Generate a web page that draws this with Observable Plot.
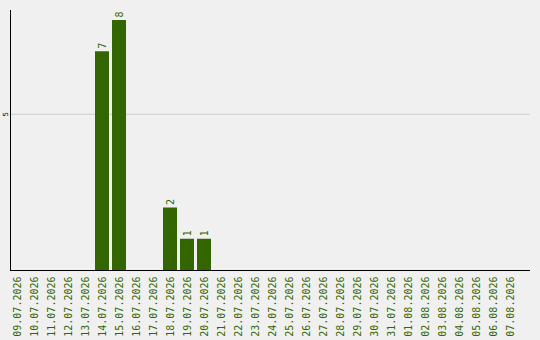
<!DOCTYPE html>
<html>
<head>
<meta charset="utf-8">
<script src="https://cdn.jsdelivr.net/npm/d3@7"></script>
<script src="https://cdn.jsdelivr.net/npm/@observablehq/plot@0.6"></script>
<style>
  html, body { margin: 0; padding: 0; background: #f0f0f0; }
  #chart { width: 540px; height: 340px; }
</style>
</head>
<body>
<div id="chart"></div>
<script>
// Daily counts, 09.07.2026 – 07.08.2026
const dates = [
  "09.07.2026", "10.07.2026", "11.07.2026", "12.07.2026", "13.07.2026",
  "14.07.2026", "15.07.2026", "16.07.2026", "17.07.2026", "18.07.2026",
  "19.07.2026", "20.07.2026", "21.07.2026", "22.07.2026", "23.07.2026",
  "24.07.2026", "25.07.2026", "26.07.2026", "27.07.2026", "28.07.2026",
  "29.07.2026", "30.07.2026", "31.07.2026", "01.08.2026", "02.08.2026",
  "03.08.2026", "04.08.2026", "05.08.2026", "06.08.2026", "07.08.2026"
];
const counts = [
  0, 0, 0, 0, 0,
  7, 8, 0, 0, 2,
  1, 1, 0, 0, 0,
  0, 0, 0, 0, 0,
  0, 0, 0, 0, 0,
  0, 0, 0, 0, 0
];
const yTicks = [5];

const green = "#336600";
const rows = dates.map((d, i) => ({date: d, count: counts[i]}));
const nonZero = rows.filter(r => r.count > 0);

const chart = Plot.plot({
  width: 540,
  height: 340,
  marginLeft: 10,
  marginRight: 10,
  marginTop: 10,
  marginBottom: 70,
  style: {background: "#f0f0f0", fontFamily: "DejaVu Sans Mono", fontSize: "10px"},
  x: {domain: dates, range: [10, 517], paddingInner: 3 / 17, paddingOuter: 0, axis: null},
  y: {domain: [0, 8.32], axis: null},
  marks: [
    Plot.gridY(yTicks, {stroke: "#cccccc", strokeOpacity: 1}),
    Plot.barY(nonZero, {x: "date", y: "count", fill: green}),
    Plot.text(nonZero, {
      x: "date", y: "count", text: d => String(d.count),
      rotate: -90, textAnchor: "start", dy: -3, fill: green,
      fontFamily: "DejaVu Sans Mono", fontSize: 10
    }),
    Plot.axisX({
      label: null, tickSize: 0, tickPadding: 6, tickRotate: -90, color: green,
      fontFamily: "DejaVu Sans Mono", fontSize: 10
    }),
    Plot.axisY(yTicks, {
      label: null, tickSize: 0, tickPadding: 3, tickRotate: -90, color: "#000",
      fontFamily: "DejaVu Sans", fontSize: 7
    }),
    Plot.ruleY([0], {stroke: "#000"}),
    Plot.frame({anchor: "left", stroke: "#000"})
  ]
});

document.getElementById("chart").append(chart);
</script>
</body>
</html>
